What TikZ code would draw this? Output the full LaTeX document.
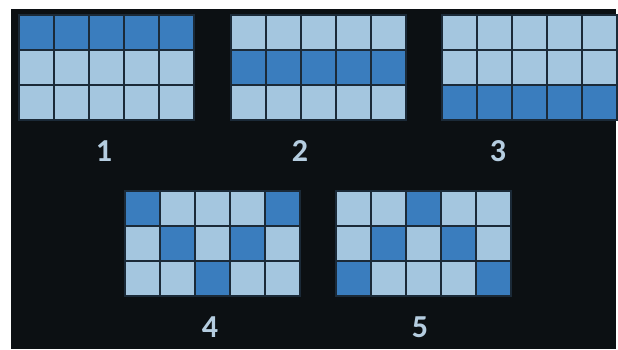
\documentclass[tikz,border=0pt]{standalone}
\usepackage{fontspec}
\setmainfont{Carlito}
\definecolor{bg}{HTML}{0C1013}
\definecolor{dk}{HTML}{3A7DBE}
\definecolor{lt}{HTML}{A4C6DF}
\definecolor{ln}{HTML}{1B2A38}
\definecolor{tx}{HTML}{B5CDE0}
\newcommand{\mygrid}[4]{%
  \foreach \r in {1,2,3}{\foreach \c in {1,...,5}{
    \node[cell] (#1-\r-\c) at ({#2+35*(\c-1)},{#3+35*(\r-1)}) {};}}
  \foreach \r/\c in {#4}{
    \node[cell,fill=dk] (#1d-\r-\c) at ({#2+35*(\c-1)},{#3+35*(\r-1)}) {};}
}
\begin{document}
\begin{tikzpicture}[x=1pt,y=-1pt,
  cell/.style={draw=ln, line width=1.6pt, minimum size=35pt, inner sep=0pt, anchor=north west, fill=lt},
  num/.style={text=tx, font=\bfseries\fontsize{32}{32}\selectfont, inner sep=0pt}]
\useasboundingbox (0,0) rectangle (618,349);
\fill[white] (0,0) rectangle (618,349);
\fill[bg] (11,9) rectangle (616,349);
\mygrid{ga}{18}{14}{1/1,1/2,1/3,1/4,1/5}
\mygrid{gb}{230}{14}{2/1,2/2,2/3,2/4,2/5}
\mygrid{gc}{441}{14}{3/1,3/2,3/3,3/4,3/5}
\mygrid{gd}{124}{190}{1/1,1/5,2/2,2/4,3/3}
\mygrid{ge}{335}{190}{1/3,2/2,2/4,3/1,3/5}
\node[num] (l1) at (104,151) {1};
\node[num] (l2) at (300,151) {2};
\node[num] (l3) at (498,151) {3};
\node[num] (l4) at (210,327) {4};
\node[num] (l5) at (420,327) {5};
\end{tikzpicture}
\end{document}
